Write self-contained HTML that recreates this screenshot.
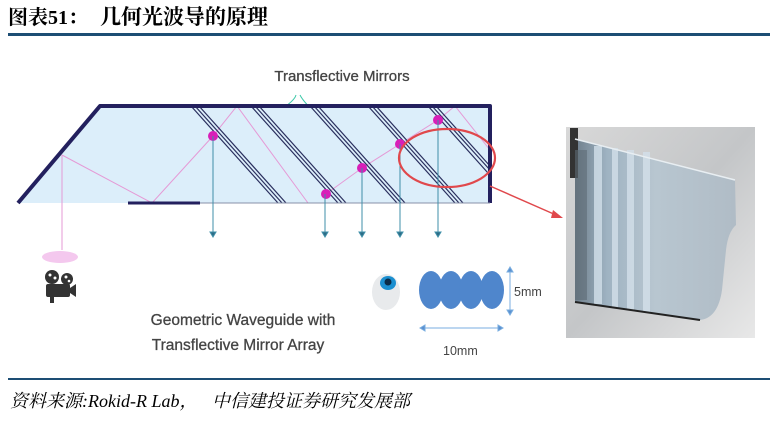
<!DOCTYPE html>
<html><head><meta charset="utf-8"><style>
html,body{margin:0;padding:0;background:#fff;width:781px;height:421px;overflow:hidden}
</style></head><body>
<svg width="781" height="421" viewBox="0 0 781 421" xmlns="http://www.w3.org/2000/svg">
<defs>
<linearGradient id="bg" x1="0" y1="0" x2="1" y2="1">
<stop offset="0" stop-color="#d8d8d8"/><stop offset="0.5" stop-color="#c4c6c8"/><stop offset="1" stop-color="#e8e8e8"/></linearGradient>
<linearGradient id="lens" x1="0" y1="0" x2="1" y2="0">
<stop offset="0" stop-color="#6f7f8c"/><stop offset="0.2" stop-color="#9fb3c2"/><stop offset="0.5" stop-color="#b8c6d0"/><stop offset="1" stop-color="#b0bcc6"/></linearGradient>
</defs>
<text x="8" y="24" font-family="Liberation Serif, Noto Serif CJK SC, serif" font-weight="bold" font-size="20" fill="#000">图表51：</text>
<text x="100" y="24" font-family="Liberation Serif, Noto Serif CJK SC, serif" font-weight="bold" font-size="21" fill="#000">几何光波导的原理</text>
<rect x="8" y="33" width="762" height="3" fill="#1d4e74"/>

<text x="342" y="81" text-anchor="middle" font-family="Liberation Sans, sans-serif" font-size="15" fill="#444" stroke="#444" stroke-width="0.3">Transflective Mirrors</text>
<path d="M296 95 q-2 8 -28 22 M300 95 q4 8 20 22" stroke="#3cc8a8" stroke-width="1" fill="none"/>

<polygon points="18,203 100,106 490,106 490,203" fill="#dceefa"/>
<g stroke="#e59ad6" stroke-width="1" fill="none">
<path d="M62 155 L152 203 L213 136 L237 106 L308 203"/>
<path d="M62 155 V250"/>
<path d="M326 194 L362 168 L400 144 L438 120 L455 106 L490 150"/>
</g>
<ellipse cx="60" cy="257" rx="18" ry="6" fill="#f4c8ee"/>
<g stroke="#2a2f5e" stroke-width="1.2">
<g id="m"><line x1="191" y1="106" x2="278" y2="203"/><line x1="195" y1="106" x2="282" y2="203"/><line x1="199" y1="106" x2="286" y2="203"/></g>
<use href="#m" x="60"/><use href="#m" x="119"/><use href="#m" x="177"/>
<line x1="428" y1="106" x2="488" y2="173"/><line x1="432" y1="106" x2="490" y2="170"/><line x1="436" y1="106" x2="490" y2="166"/>
</g>
<path d="M18 203 L100 106 H490 V203" stroke="#23205e" stroke-width="4" fill="none" stroke-linejoin="round"/>
<line x1="128" y1="203" x2="200" y2="203" stroke="#23205e" stroke-width="3"/>
<line x1="200" y1="203" x2="490" y2="203" stroke="#8890a8" stroke-width="1"/>
<g fill="#d81fb8">
<circle cx="213" cy="136" r="5"/><circle cx="326" cy="194" r="5"/><circle cx="362" cy="168" r="5"/><circle cx="400" cy="144" r="5"/><circle cx="438" cy="120" r="5"/></g>
<g stroke="#3f8fa8" stroke-width="1" fill="#2d6b85">
<line x1="213" y1="136" x2="213" y2="232"/><polygon points="210,232 216,232 213,237"/>
<line x1="325" y1="194" x2="325" y2="232"/><polygon points="322,232 328,232 325,237"/>
<line x1="362" y1="168" x2="362" y2="232"/><polygon points="359,232 365,232 362,237"/>
<line x1="400" y1="144" x2="400" y2="232"/><polygon points="397,232 403,232 400,237"/>
<line x1="438" y1="120" x2="438" y2="232"/><polygon points="435,232 441,232 438,237"/>
</g>
<ellipse cx="447" cy="158" rx="48" ry="29" stroke="#e0484c" stroke-width="2.2" fill="none"/>
<line x1="490" y1="186" x2="556" y2="215" stroke="#e0484c" stroke-width="1.5"/>
<polygon points="563,218 553,210 551,218" fill="#e0484c"/>

<g fill="#333">
<circle cx="52" cy="277" r="7"/><circle cx="67" cy="279" r="6"/>
<rect x="46" y="284" width="24" height="13" rx="2"/><polygon points="70,288 76,284 76,297 70,293"/>
<rect x="50" y="297" width="4" height="6"/>
</g>
<g fill="#fff"><circle cx="50" cy="275" r="1.5"/><circle cx="55" cy="278" r="1.5"/><circle cx="66" cy="277" r="1.5"/><circle cx="69" cy="281" r="1.3"/></g>

<text x="243" y="325" text-anchor="middle" font-family="Liberation Sans, sans-serif" font-size="15.5" fill="#444" stroke="#444" stroke-width="0.3">Geometric Waveguide with</text>
<text x="238" y="350" text-anchor="middle" font-family="Liberation Sans, sans-serif" font-size="15.5" fill="#444" stroke="#444" stroke-width="0.3">Transflective Mirror Array</text>

<ellipse cx="386" cy="292" rx="14" ry="18" fill="#e8eaec"/>
<ellipse cx="388" cy="283" rx="8" ry="7" fill="#1b8fd0"/><circle cx="388" cy="282" r="3.5" fill="#0a2c48"/>
<g fill="#4f86cc">
<ellipse cx="431" cy="290" rx="12" ry="19"/><ellipse cx="451" cy="290" rx="12" ry="19"/><ellipse cx="471" cy="290" rx="12" ry="19"/><ellipse cx="492" cy="290" rx="12" ry="19"/></g>
<g stroke="#7aaee0" stroke-width="1" fill="#5a90d0">
<line x1="510" y1="270" x2="510" y2="312"/><polygon points="507,272 513,272 510,267"/><polygon points="507,310 513,310 510,315"/>
<line x1="423" y1="328" x2="500" y2="328"/><polygon points="425,325 425,331 420,328"/><polygon points="498,325 498,331 503,328"/>
</g>
<text x="514" y="296" font-family="Liberation Sans, sans-serif" font-size="12.5" fill="#444">5mm</text>
<text x="443" y="355" font-family="Liberation Sans, sans-serif" font-size="12.5" fill="#444">10mm</text>

<rect x="566" y="127" width="189" height="211" fill="url(#bg)"/>
<path d="M575 139 L735 180 L736 225 Q728 232 726 250 L722 290 Q718 318 700 320 L575 302 Z" fill="url(#lens)"/>
<rect x="570" y="128" width="8" height="50" fill="#333"/>
<rect x="575" y="150" width="12" height="150" fill="#5d6a74" opacity="0.6"/>
<g fill="#d3e0ea" opacity="0.8"><rect x="594" y="146" width="8" height="158"/><rect x="612" y="148" width="6" height="160"/><rect x="627" y="150" width="7" height="160"/><rect x="643" y="152" width="7" height="160"/></g>
<path d="M575 302 L700 320" stroke="#222" stroke-width="2"/>
<path d="M575 139 L735 180" stroke="#e8eef2" stroke-width="1.5"/>

<rect x="8" y="378" width="762" height="2" fill="#1d4e74"/>
<text x="10" y="407" font-family="Liberation Serif, Noto Serif CJK SC, serif" font-style="italic" font-size="18" fill="#000">资料来源:Rokid-R Lab，</text>
<text x="212" y="407" font-family="Liberation Serif, Noto Serif CJK SC, serif" font-style="italic" font-size="18" fill="#000">中信建投证券研究发展部</text>
</svg>
</body></html>
